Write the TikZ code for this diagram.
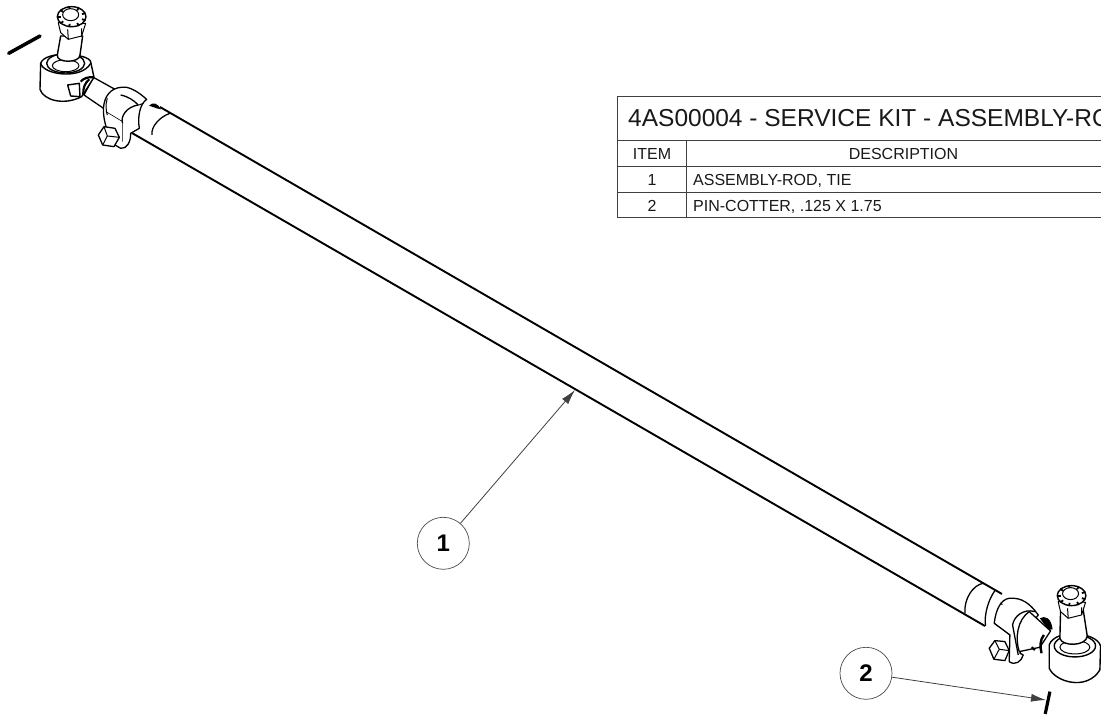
\documentclass[tikz,border=0pt]{standalone}
\usepackage{fontspec}
\setmainfont{Liberation Sans}
\usetikzlibrary{arrows.meta}
\tikzset{
  part/.style={draw=black,line width=1pt,fill=white,line join=round},
  edge/.style={draw=black,line width=1pt,line join=round},
  rodline/.style={draw=black,line width=1.9pt},
  tbl/.style={draw=black!75,line width=0.9pt},
  balloon/.style={circle,draw=black!70,line width=0.7pt,minimum size=52pt,inner sep=0pt,font=\fontsize{24}{24}\selectfont\bfseries},
  leader/.style={draw=black!75,line width=0.8pt,-{Latex[length=15pt,width=8pt]}},
  titletxt/.style={inner sep=0pt,anchor=base west,font=\fontsize{24.5}{25}\selectfont,text=black!90},
  celltxt/.style={inner sep=0pt,anchor=base,font=\fontsize{16}{18}\selectfont,text=black!90},
  zoomed/.style={x=0.3333pt,y=-0.3333pt}
}
\newcommand{\castlenut}{%
  \filldraw[part] (-40,18) -- (-37,32) -- (-33,48) -- (-10,68) -- (30,58) -- (42,20) -- cycle;
  \draw[edge] (-10,68) -- (-12,38) (30,58) -- (30,35);
  \filldraw[part,line width=1.4pt] (0,0) ellipse [x radius=43,y radius=30];
  \foreach \a in {20,60,...,340}{\draw[black,line width=1.8pt] (\a:33 and 22) -- (\a:44 and 32);}
  \filldraw[part] (-3,-6) ellipse [x radius=24,y radius=18];
}
\begin{document}
\begin{tikzpicture}[x=1pt,y=-1pt]
\useasboundingbox (0,0) rectangle (1101,715);
\fill[white] (0,0) rectangle (1101,715);

% rod
\draw[rodline] (160,107) -- (1002,594);
\draw[rodline] (132,133) -- (985,626);
\begin{scope}[zoomed]
  % ---------- left end ----------
  \draw[black,line width=3.5pt,line cap=round] (26,160) -- (120,108);
  \fill[black] (447,317) .. controls (458,305) and (475,310) .. (483,328) -- (470,325) -- cycle;
  \draw[edge,line width=1.3pt] (510,340) .. controls (480,350) and (452,380) .. (456,405);
  \filldraw[part,line width=1.3pt] (280,232) -- (345,268) -- (312,326) -- (252,285) -- cycle;
  \filldraw[part,line width=1.3pt] (440,298) .. controls (420,312) and (412,350) .. (418,385) -- (392,400)
     .. controls (393,425) and (380,448) .. (362,445) -- (345,435) .. controls (318,400) and (305,340) .. (312,312)
     .. controls (318,280) and (340,258) .. (380,262) .. controls (405,268) and (425,285) .. (440,298) -- cycle;
  \draw[edge] (322,295) .. controls (316,310) and (318,335) .. (322,345);
  \draw[edge,line width=1.3pt] (362,285) .. controls (385,290) and (400,300) .. (415,315) .. controls (380,320) and (360,350) .. (368,370);
  \draw[edge,line width=0.6pt] (318,335) -- (368,365) -- (368,425);
  \draw[edge] (417,315) -- (430,310);
  \filldraw[part,line width=1.3pt] (295,405) -- (312,380) -- (345,385) -- (358,412) -- (342,440) -- (308,435) -- cycle;
  \draw[edge] (312,380) -- (322,408) -- (358,412) (322,408) -- (308,435);
  % eye
  \filldraw[part,line width=1.4pt] (122,190) -- (120,268) .. controls (130,300) and (190,318) .. (245,290) -- (282,232) -- (272,185)
     .. controls (265,160) and (135,150) .. (122,190) -- cycle;
  \draw[edge,line width=1.4pt] (122,190) .. controls (130,225) and (245,240) .. (272,190);
  \filldraw[part,line width=1.4pt] (197,190) ellipse [x radius=57,y radius=29];
  \filldraw[part] (197,197) ellipse [x radius=40,y radius=18];
  \filldraw[part,line width=1.4pt] (182,108) -- (172,165) .. controls (168,190) and (240,190) .. (240,165) -- (248,108) -- cycle;
  % boot and knuckle
  \filldraw[part,line width=1.4pt] (203,255) -- (238,250) -- (240,290) -- (212,288) -- cycle;
  \draw[black,line width=2.2pt] (242,245) .. controls (250,235) and (265,230) .. (280,232);
  \draw[black,line width=2.2pt] (250,285) .. controls (248,265) and (255,248) .. (268,238);
  \begin{scope}[shift={(215,50)}]\castlenut\end{scope}

  % ---------- right end ----------
  \begin{scope}[shift={(2820,1680)}]
    \draw[edge,line width=1.3pt] (130,70) .. controls (100,75) and (72,115) .. (75,160);
    \draw[edge,line width=1.3pt] (165,92) .. controls (145,120) and (132,165) .. (137,198);
    \fill[black] (300,175) .. controls (315,165) and (335,175) .. (338,208) -- (325,210) -- cycle;
    \filldraw[part,line width=1.3pt] (163,190) .. controls (168,145) and (185,118) .. (208,115) .. controls (245,112) and (270,130) .. (295,165)
      -- (270,200) -- (240,280) -- (250,285) .. controls (245,305) and (225,318) .. (208,305) -- (210,225) -- cycle;
    \filldraw[part,line width=1.3pt] (268,155) -- (332,213) -- (300,262) -- (238,275) .. controls (225,235) and (232,180) .. (268,155) -- cycle;
    \draw[black,line width=2.4pt] (312,225) .. controls (300,240) and (300,260) .. (305,280);
    \draw[black,line width=2.2pt] (275,262) -- (285,270);
    \draw[edge,line width=1.3pt] (218,195) .. controls (222,170) and (250,145) .. (285,155);
    \draw[edge,line width=1.3pt] (218,195) -- (235,285);
    \draw[edge,line width=0.6pt] (163,190) -- (210,225);
    \draw[edge] (183,128) -- (187,135);
    \filldraw[part,line width=1.3pt] (148,265) -- (165,242) -- (195,245) -- (208,272) -- (195,302) -- (162,298) -- cycle;
    \draw[edge] (165,242) -- (178,268) -- (208,272) (178,268) -- (162,298);
    % eye
    \filldraw[part,line width=1.4pt] (328,255) -- (328,325) .. controls (345,365) and (440,395) .. (480,330) -- (482,258)
       .. controls (470,215) and (345,205) .. (328,255) -- cycle;
    \filldraw[part,line width=1.4pt] (405,258) ellipse [x radius=62,y radius=33];
    \filldraw[part] (405,262) ellipse [x radius=45,y radius=20];
    \filldraw[part,line width=1.4pt] (362,155) -- (360,235) .. controls (365,260) and (440,260) .. (442,228) -- (430,150) -- cycle;
    \begin{scope}[shift={(395,107)}]\castlenut\end{scope}
    % cotter pin 2
    \draw[black,line width=3.2pt] (330,395) -- (316,462);
  \end{scope}
\end{scope}

% table
\draw[tbl] (1101,96) -- (617,96) -- (617,217) -- (1101,217);
\draw[tbl] (617,140) -- (1101,140);
\draw[tbl] (617,166) -- (1101,166);
\draw[tbl] (617,192) -- (1101,192);
\draw[tbl] (686,140) -- (686,217);
\node[titletxt] (title) at (628,126) {4AS00004 - SERVICE KIT - ASSEMBLY-RO};
\node[celltxt] (hitem) at (652,159) {ITEM};
\node[celltxt] (hdesc) at (903.5,159) {DESCRIPTION};
\node[celltxt] (n1) at (652,185) {1};
\node[celltxt,anchor=base west] (d1) at (693,185) {ASSEMBLY-ROD, TIE};
\node[celltxt] (n2) at (652,211) {2};
\node[celltxt,anchor=base west] (d2) at (693,211) {PIN-COTTER, .125 X 1.75};

% balloons
\node[balloon] (b1) at (443.3,543.3) {1};
\node[balloon] (b2) at (866,673.3) {2};
\coordinate (t1) at (575,390);
\coordinate (t2) at (1046,700);
\draw[leader] (b1) -- (t1);
\draw[leader] (b2) -- (t2);
\end{tikzpicture}
\end{document}
